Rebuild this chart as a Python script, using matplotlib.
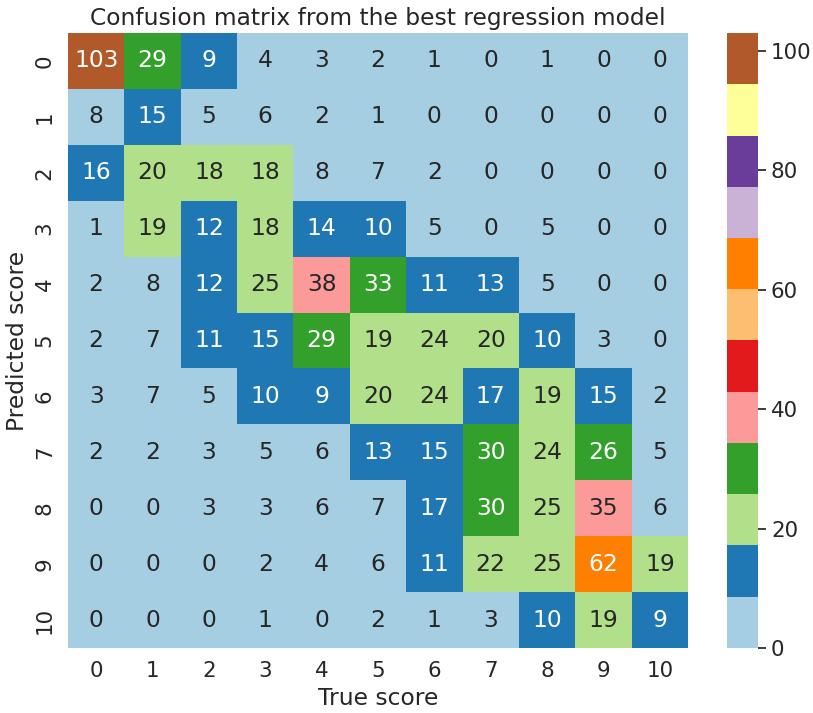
import numpy as np
import matplotlib
matplotlib.use("Agg")
import matplotlib.pyplot as plt
import seaborn as sns

scores = list(range(11))
confusion = [
    [103, 29, 9, 4, 3, 2, 1, 0, 1, 0, 0],
    [8, 15, 5, 6, 2, 1, 0, 0, 0, 0, 0],
    [16, 20, 18, 18, 8, 7, 2, 0, 0, 0, 0],
    [1, 19, 12, 18, 14, 10, 5, 0, 5, 0, 0],
    [2, 8, 12, 25, 38, 33, 11, 13, 5, 0, 0],
    [2, 7, 11, 15, 29, 19, 24, 20, 10, 3, 0],
    [3, 7, 5, 10, 9, 20, 24, 17, 19, 15, 2],
    [2, 2, 3, 5, 6, 13, 15, 30, 24, 26, 5],
    [0, 0, 3, 3, 6, 7, 17, 30, 25, 35, 6],
    [0, 0, 0, 2, 4, 6, 11, 22, 25, 62, 19],
    [0, 0, 0, 1, 0, 2, 1, 3, 10, 19, 9],
]

sns.set_theme(style="white", font_scale=1.4)

fig = plt.figure(figsize=(8.13, 7.13), dpi=100)
ax = fig.add_axes([0.0836, 0.0912, 0.7627, 0.8625])
cax = fig.add_axes([0.894, 0.0912, 0.038, 0.8625])
sns.heatmap(np.array(confusion), annot=True, fmt="d", cmap="Paired",
            xticklabels=scores, yticklabels=scores, ax=ax, cbar_ax=cax)
ax.set_xlabel("True score")
ax.set_ylabel("Predicted score")
ax.set_title("Confusion matrix from the best regression model")
plt.savefig("out.png")
